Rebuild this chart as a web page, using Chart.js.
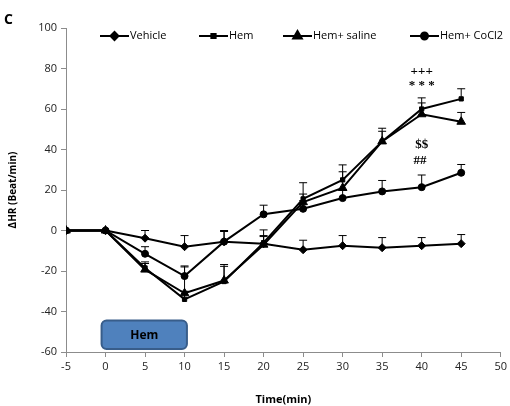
<!DOCTYPE html>
<html><head><meta charset="utf-8">
<script src="https://cdn.jsdelivr.net/npm/chart.js@4"></script>
<style>html,body{margin:0;padding:0;background:#fff}#wrap{width:510px;height:406px;position:relative}</style>
</head><body><div id="wrap"><canvas id="c" width="510" height="406"></canvas></div>
<script>
const times = [-5, 0, 5, 10, 15, 20, 25, 30, 35, 40, 45];
const xTicks = [-5, 0, 5, 10, 15, 20, 25, 30, 35, 40, 45, 50];
const yTicks = [-60, -40, -20, 0, 20, 40, 60, 80, 100];
const seriesNames = ["Vehicle", "Hem", "Hem+ saline", "Hem+ CoCl2"];
const vehicle = [0, 0, -3.8, -8, -5.5, -6.5, -9.5, -7.5, -8.5, -7.5, -6.5];
const vehicleErr = [0, 0, 3.8, 5.5, 5.5, 4, 4.7, 5, 5, 4, 4.5];
const hem = [0, 0, -18.5, -34, -25.2, -6, 15.6, 25, 44, 60, 65];
const hemErr = [0, 0, 3, 4, 8.4, 6.3, 8, 7.4, 6.5, 5.5, 5];
const saline = [0, 0, -19.3, -31, -24.7, -7, 14, 21, 44, 57.4, 53.7];
const salineErr = [0, 0, 3, 13, 7, 4, 4, 8, 5, 5.6, 4.6];
const cocl2 = [0, 0, -11.5, -22.5, -5.5, 8, 10.7, 16, 19.3, 21.4, 28.5];
const cocl2Err = [0, 0, 3.5, 5, 5, 4.5, 4, 4, 5.4, 6, 4.1];
const annotations = [
  {t: "+++", x: 40, y: 78.5},
  {t: "* * *", x: 40, y: 71.5},
  {t: "$$", x: 40, y: 42.5},
  {t: "##", x: 39.8, y: 34.5}
];
const hemBox = {x0: -0.5, x1: 10.3, y0: -44.5, y1: -58.5, label: "Hem"};
const yTitle = 'ΔHR (Beat/min)';

const styles = [
  {pointStyle: 'rectRot', radius: 4},
  {pointStyle: 'rect', radius: 3},
  {pointStyle: 'triangle', radius: 5},
  {pointStyle: 'circle', radius: 3.5}
];
const values = [vehicle, hem, saline, cocl2];
const errs = [vehicleErr, hemErr, salineErr, cocl2Err];

const datasets = values.map((v, i) => ({
  label: seriesNames[i],
  data: times.map((t, k) => ({x: t, y: v[k]})),
  borderColor: '#000', backgroundColor: '#000', borderWidth: 2,
  pointStyle: styles[i].pointStyle, pointRadius: styles[i].radius,
  pointBorderWidth: 1, tension: 0
}));

const extras = {
  id: 'extras',
  beforeDatasetsDraw(chart) {
    const ctx = chart.ctx, xs = chart.scales.x, ys = chart.scales.y;
    ctx.save();
    ctx.strokeStyle = '#000'; ctx.lineWidth = 1;
    errs.forEach((e, i) => {
      times.forEach((t, k) => {
        if (!e[k]) return;
        const px = xs.getPixelForValue(t);
        const p0 = ys.getPixelForValue(values[i][k]);
        const p1 = ys.getPixelForValue(values[i][k] + e[k]);
        ctx.beginPath(); ctx.moveTo(px, p0); ctx.lineTo(px, p1);
        ctx.moveTo(px - 4, p1); ctx.lineTo(px + 4, p1); ctx.stroke();
      });
    });
    ctx.restore();
  },
  afterDraw(chart) {
    const ctx = chart.ctx, xs = chart.scales.x, ys = chart.scales.y;
    ctx.save();
    const bx0 = xs.getPixelForValue(hemBox.x0), bx1 = xs.getPixelForValue(hemBox.x1);
    const by0 = ys.getPixelForValue(hemBox.y0), by1 = ys.getPixelForValue(hemBox.y1);
    ctx.beginPath();
    ctx.roundRect(bx0, by0, bx1 - bx0, by1 - by0, 5);
    ctx.fillStyle = '#4f81bd'; ctx.fill();
    ctx.strokeStyle = '#385d8a'; ctx.lineWidth = 2; ctx.stroke();
    ctx.fillStyle = '#000'; ctx.font = 'bold 12px "Open Sans", sans-serif';
    ctx.textAlign = 'center'; ctx.textBaseline = 'middle';
    ctx.fillText(hemBox.label, (bx0 + bx1) / 2, (by0 + by1) / 2 + 1);
    ctx.font = 'bold 13px "Liberation Serif", serif';
    annotations.forEach(a => {
      ctx.fillText(a.t, xs.getPixelForValue(a.x), ys.getPixelForValue(a.y));
    });
    // y title
    ctx.save();
    ctx.translate(13, (chart.chartArea.top + chart.chartArea.bottom) / 2);
    ctx.rotate(-Math.PI / 2);
    ctx.font = 'bold 10px "Open Sans", sans-serif';
    ctx.fillText(yTitle, 0, 0);
    ctx.restore();
    ctx.font = 'bold 14px "Open Sans", sans-serif';
    ctx.textAlign = 'left';
    ctx.fillText('C', 4, 20);
    const legX = [100, 199, 283, 410];
    const ly = 36;
    ctx.font = '11px "Open Sans", sans-serif';
    ctx.textBaseline = 'middle';
    legX.forEach((lx, i) => {
      ctx.strokeStyle = '#000'; ctx.lineWidth = 2;
      ctx.beginPath(); ctx.moveTo(lx, ly); ctx.lineTo(lx + 29, ly); ctx.stroke();
      ctx.fillStyle = '#000';
      Chart.helpers.drawPoint(ctx, {pointStyle: styles[i].pointStyle, radius: styles[i].radius, borderWidth: 1}, lx + 14.5, ly);
      ctx.fillStyle = '#000';
      ctx.fillText(seriesNames[i], lx + 30, ly);
    });
    ctx.restore();
  }
};

new Chart(document.getElementById('c'), {
  type: 'line',
  data: {datasets},
  options: {
    responsive: false, animation: false,
    layout: {padding: {top: 28, right: 5, left: 0, bottom: 0}},
    plugins: {legend: {display: false}, tooltip: {enabled: false}},
    scales: {
      x: {
        type: 'linear', min: -5, max: 50,
        afterBuildTicks: s => { s.ticks = xTicks.map(v => ({value: v})); },
        afterFit: s => { s.height = 54; },
        grid: {drawOnChartArea: false, tickLength: 5, color: '#8c8c8c'},
        border: {color: '#8c8c8c'},
        ticks: {color: '#222', font: {size: 11, family: '"Open Sans", sans-serif'}, maxRotation: 0, padding: 3},
        title: {display: true, text: 'Time(min)', color: '#000', font: {size: 11, weight: 'bold', family: '"Open Sans", sans-serif'}, padding: {top: 14, bottom: 0}}
      },
      y: {
        type: 'linear', min: -60, max: 100,
        afterBuildTicks: s => { s.ticks = yTicks.map(v => ({value: v})); },
        afterFit: s => { s.width = 66; },
        grid: {drawOnChartArea: false, tickLength: 5, color: '#8c8c8c'},
        border: {color: '#8c8c8c'},
        ticks: {color: '#222', font: {size: 11, family: '"Open Sans", sans-serif'}, padding: 4},
        title: {display: false}
      }
    }
  },
  plugins: [extras]
});
</script></body></html>
